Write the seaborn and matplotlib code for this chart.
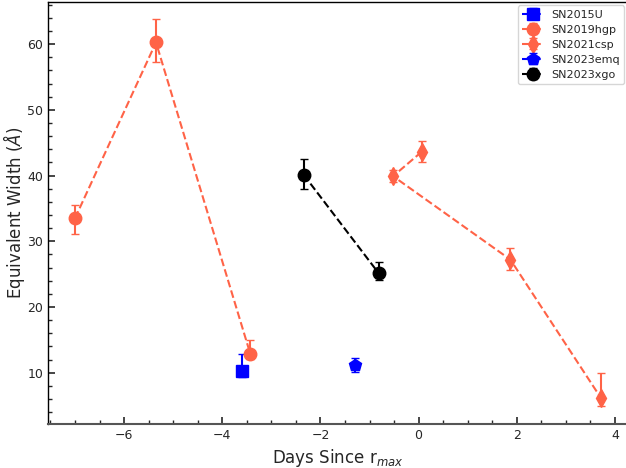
import numpy as np
import pandas as pd
import seaborn as sns
import matplotlib.pyplot as plt
from matplotlib.ticker import MultipleLocator

# Equivalent widths
sn2015u_days = [-3.6]
sn2015u_ew = [10.2]
sn2015u_err = [[0.8], [2.6]]

sn2019hgp_days = [-7.0, -5.35, -3.43]
sn2019hgp_ew = [33.5, 60.25, 12.9]
sn2019hgp_err = [[2.4, 3.0, 0.8], [2.0, 3.6, 2.1]]

sn2021csp_days = [0.06, -0.52, 1.87, 3.71]
sn2021csp_ew = [43.6, 39.9, 27.2, 6.2]
sn2021csp_err = [[1.6, 0.9, 1.5, 1.2], [1.7, 0.9, 1.7, 3.7]]

sn2023emq_days = [-1.3]
sn2023emq_ew = [11.1]
sn2023emq_err = [[1.0], [1.2]]

sn2023xgo_days = [-2.34, -0.81]
sn2023xgo_ew = [40.1, 25.1]
sn2023xgo_err = [[2.1, 1.0], [2.4, 1.8]]

series = [
    ('SN2015U', sn2015u_days, sn2015u_ew, sn2015u_err, 'blue', 's'),
    ('SN2019hgp', sn2019hgp_days, sn2019hgp_ew, sn2019hgp_err, 'tomato', 'o'),
    ('SN2021csp', sn2021csp_days, sn2021csp_ew, sn2021csp_err, 'tomato', 'd'),
    ('SN2023emq', sn2023emq_days, sn2023emq_ew, sn2023emq_err, 'blue', 'p'),
    ('SN2023xgo', sn2023xgo_days, sn2023xgo_ew, sn2023xgo_err, 'black', 'o'),
]

sns.set_style('white')
plt.rcParams['font.family'] = ['DejaVu Sans']

fig = plt.figure(figsize=(6.26, 4.68), dpi=100)
ax = fig.add_axes([48 / 626, 1 - 424 / 468, 1.0 - 48 / 626 + 0.002, (424 - 2) / 468])

for name, days, ew, err, color, marker in series:
    df = pd.DataFrame({'days': days, 'ew': ew})
    ax.errorbar(df['days'], df['ew'], yerr=np.array(err), fmt=marker, ls='--',
                color=color, markersize=9, capsize=3, elinewidth=1.5,
                lw=1.5, label=name)

ax.set_xlim(-7.55, 4.25)
ax.set_ylim(2.2, 66.4)
ax.xaxis.set_minor_locator(MultipleLocator(0.5))
ax.yaxis.set_minor_locator(MultipleLocator(2))
ax.tick_params(which='both', direction='in', bottom=True, left=True, top=False, right=False)
ax.tick_params(which='major', length=5, width=1.2, labelsize=9)
ax.tick_params(which='minor', length=3, width=1.0)
for s in ax.spines.values():
    s.set_color('black')
    s.set_linewidth(1.0)
ax.spines['bottom'].set_color('#555555')
ax.spines['bottom'].set_linewidth(1.5)

ax.set_xlabel(r'Days Since r$_{max}$', fontsize=12)
ax.set_ylabel(r'Equivalent Width ($\AA$)', fontsize=12, labelpad=0)
ax.legend(loc='upper right', fontsize=8, frameon=True, borderpad=0.4,
          borderaxespad=0.3, handletextpad=0.6, labelspacing=0.45)

fig.savefig('out.png', dpi=100)
